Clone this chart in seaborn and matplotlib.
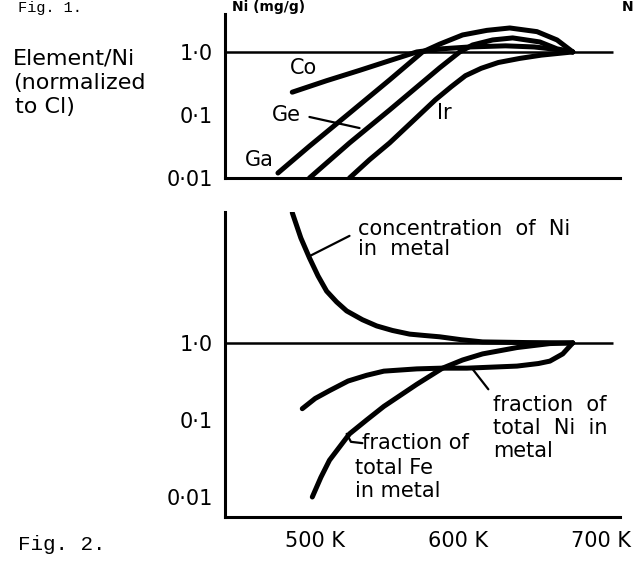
import matplotlib
matplotlib.use("Agg")
import numpy as np
import pandas as pd
import matplotlib.pyplot as plt
from matplotlib import transforms
import seaborn as sns

# ---- data (temperature in K, ratio normalised to CI) ----
co_T = [496, 520, 543, 565, 583, 600, 620, 645, 665, 680, 692]
co_v = [0.23, 0.35, 0.51, 0.74, 1.0, 1.12, 1.2, 1.25, 1.2, 1.1, 1.0]

ga_T = [486, 508, 536, 564, 587, 599, 615, 632, 648, 667, 681, 692]
ga_v = [0.012, 0.032, 0.107, 0.36, 1.0, 1.33, 1.86, 2.2, 2.4, 2.1, 1.55, 1.0]

ge_T = [508, 536, 564, 599, 613, 622, 636, 650, 669, 681, 692]
ge_v = [0.01, 0.036, 0.12, 0.56, 1.0, 1.29, 1.55, 1.67, 1.44, 1.12, 1.0]

ir_T = [536, 550, 564, 580, 596, 607, 617, 628, 640, 655, 670, 692]
ir_v = [0.01, 0.0195, 0.036, 0.079, 0.174, 0.28, 0.42, 0.55, 0.68, 0.79, 0.89, 1.0]

ni_conc_T = [496, 502, 508, 514, 520, 527, 534, 545, 555, 566, 578, 588, 599,
             614, 629, 660, 692]
ni_conc_v = [49, 23, 12.7, 7.4, 4.7, 3.4, 2.6, 2.0, 1.66, 1.45, 1.3, 1.25, 1.2,
             1.1, 1.03, 1.01, 1.0]

ni_frac_T = [503, 512, 522, 535, 548, 560, 583, 600, 618, 653, 668, 676, 685, 692]
ni_frac_v = [0.14, 0.19, 0.24, 0.32, 0.38, 0.43, 0.46, 0.47, 0.47, 0.50, 0.54,
             0.58, 0.72, 1.0]

fe_frac_T = [510, 516, 522, 536, 548, 560, 583, 601, 615, 629, 653, 676, 692]
fe_frac_v = [0.01, 0.018, 0.03, 0.066, 0.10, 0.15, 0.29, 0.47, 0.60, 0.72,
             0.87, 0.98, 1.0]

x_ticks = [500, 600, 700]
x_labels = ["500 K", "600 K", "700 K"]
top_yticks = [0.01, 0.1, 1.0]
top_ylabels = ["0·01", "0·1", "1·0"]
bot_yticks = [0.01, 0.1, 1.0]
bot_ylabels = ["0·01", "0·1", "1·0"]
line_end = 720   # where the unity line stops


def long_form(curves):
    rows = []
    for name, (T, v) in curves.items():
        for t, val in zip(T, v):
            rows.append({"T": t, "value": val, "curve": name})
    return pd.DataFrame(rows)


top_df = long_form({"Co": (co_T, co_v), "Ga": (ga_T, ga_v),
                    "Ge": (ge_T, ge_v), "Ir": (ir_T, ir_v)})
bot_df = long_form({"conc": (ni_conc_T, ni_conc_v),
                    "ni": (ni_frac_T, ni_frac_v),
                    "fe": (fe_frac_T, fe_frac_v)})

sns.set_style("white")
plt.rcParams["font.family"] = ["DejaVu Sans"]
plt.rcParams["text.color"] = "black"

W, H = 637, 562
fig = plt.figure(figsize=(W / 100, H / 100), dpi=100)
ax_top = fig.add_axes([225 / W, 1 - 178 / H, 395 / W, (178 - 14) / H])
ax_bot = fig.add_axes([225 / W, 1 - 517 / H, 395 / W, (517 - 212) / H])

for ax, df in [(ax_top, top_df), (ax_bot, bot_df)]:
    ax.set_yscale("log")
    sns.lineplot(data=df, x="T", y="value", units="curve", estimator=None,
                 sort=False, color="black", lw=3.6, ax=ax, legend=False)
    ax.hlines(1.0, 449, line_end, color="black", lw=1.8)
    ax.set_xlim(449, 725)
    ax.set_xlabel("")
    ax.set_ylabel("")
    for s in ["top", "right"]:
        ax.spines[s].set_visible(False)
    for s in ["left", "bottom"]:
        ax.spines[s].set_linewidth(2.2)
        ax.spines[s].set_color("black")
    ax.minorticks_off()
    ax.set_xticks(x_ticks)
    ax.tick_params(axis="y", direction="in", length=12, width=2.2,
                   labelsize=15, pad=9, colors="black")
    ax.tick_params(axis="x", direction="out", length=9, width=2.2,
                   labelsize=15, pad=1, colors="black")

ax_top.set_ylim(0.01, 4.0)
ax_top.set_yticks(top_yticks)
ax_top.set_yticklabels(top_ylabels)
ax_top.minorticks_off()
ax_top.set_xticklabels([])

ax_bot.set_ylim(0.0055, 50)
ax_bot.set_yticks(bot_yticks)
ax_bot.set_yticklabels(bot_ylabels)
ax_bot.minorticks_off()
ax_bot.set_xticklabels(x_labels)
shift = transforms.ScaledTranslation(0.17, 0, fig.dpi_scale_trans)
for lab in ax_bot.get_xticklabels():
    lab.set_transform(lab.get_transform() + shift)

# ---- annotations, top panel ----
fs = 15
ax_top.text(494, 0.56, "Co", fontsize=fs, va="center")
ax_top.text(482, 0.10, "Ge", fontsize=fs, va="center")
ax_top.plot([508, 543], [0.093, 0.062], color="black", lw=1.6)
ax_top.text(463, 0.019, "Ga", fontsize=fs, va="center")
ax_top.text(597, 0.108, "Ir", fontsize=fs, va="center")

# ---- annotations, bottom panel ----
ax_bot.text(542, 22, "concentration  of  Ni\nin  metal", fontsize=fs,
            va="center", linespacing=1.0)
ax_bot.plot([536, 508.5], [24.5, 13.5], color="black", lw=1.6)
ax_bot.text(636, 0.079, "fraction  of\ntotal  Ni  in\nmetal", fontsize=fs,
            va="center", linespacing=1.2)
ax_bot.plot([633, 621.5], [0.25, 0.47], color="black", lw=1.6)
ax_bot.text(545, 0.05, "fraction of", fontsize=fs, va="center")
ax_bot.text(540, 0.017, "total Fe\nin metal", fontsize=fs, va="center",
            linespacing=1.2)
ax_bot.plot([534, 537, 545], [0.066, 0.052, 0.050], color="black", lw=1.6)

# ---- page text ----
fig.text(13 / W, 1 - 65 / H, "Element/Ni", fontsize=16, va="baseline")
fig.text(13 / W, 1 - 89 / H, "(normalized", fontsize=16, va="baseline")
fig.text(15 / W, 1 - 113 / H, "to Cl)", fontsize=16, va="baseline")
fig.text(18 / W, 1 - 550 / H, "Fig. 2.", fontsize=15, va="baseline",
         family="Liberation Mono")
# remnants of the previous figure at the top edge, kept fully on the page
fig.text(18 / W, 1 - 12 / H, "Fig. 1.", fontsize=11, va="baseline",
         family="Liberation Mono")
fig.text(232 / W, 1 - 11 / H, "Ni (mg/g)", fontsize=10, va="baseline",
         weight="bold")
fig.text(622 / W, 1 - 11 / H, "N", fontsize=10, va="baseline", weight="bold")

fig.savefig("out.png", dpi=100)
